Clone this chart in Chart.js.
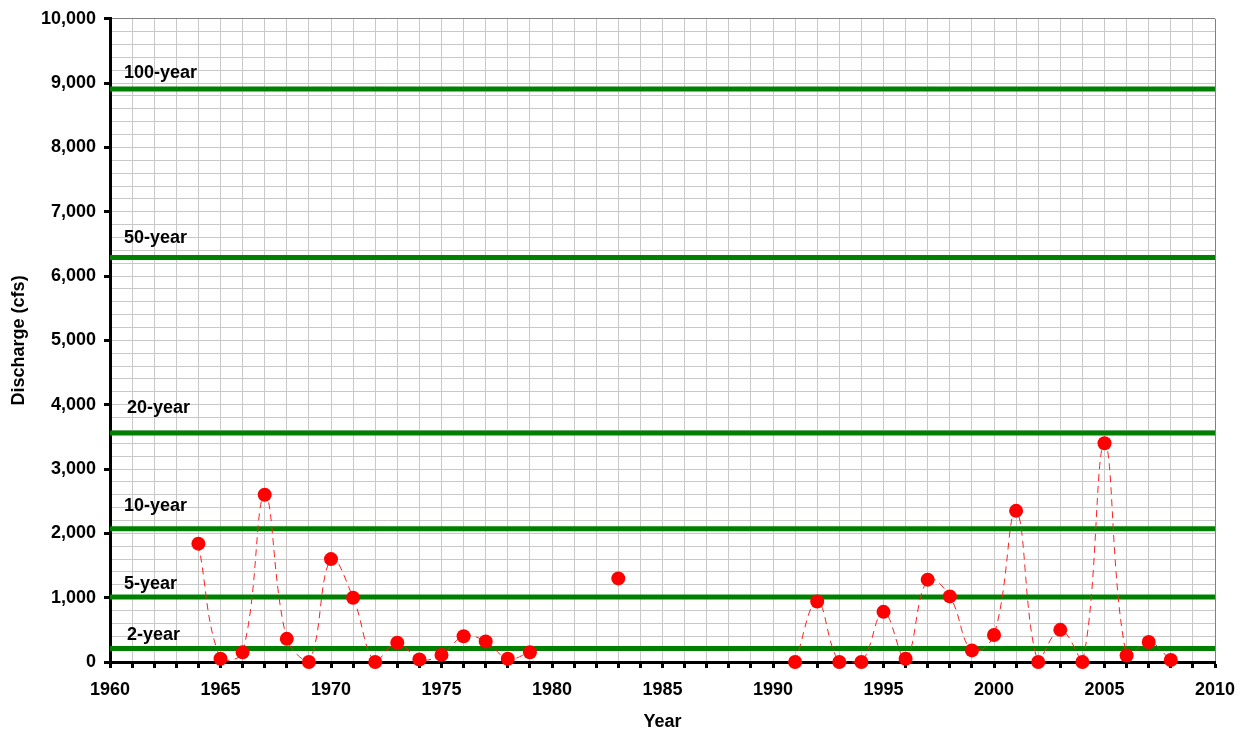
<!DOCTYPE html>
<html>
<head>
<meta charset="utf-8">
<title>Annual peak discharge</title>
<script src="https://cdn.jsdelivr.net/npm/chart.js@4"></script>
<style>
  body { margin: 0; background: #fff; }
  #wrap { width: 1247px; height: 734px; position: relative; }
</style>
</head>
<body>
<div id="wrap"><canvas id="peakChart"></canvas></div>
<script>
// annual peaks (cfs), null = no record that year
const years = [1964, 1965, 1966, 1967, 1968, 1969, 1970, 1971, 1972, 1973, 1974, 1975, 1976, 1977, 1978, 1979,
    1980, 1981, 1982, 1983, 1984, 1985, 1986, 1987, 1988, 1989, 1990,
    1991, 1992, 1993, 1994, 1995, 1996, 1997, 1998, 1999, 2000, 2001, 2002, 2003, 2004, 2005, 2006, 2007, 2008];
const discharge = [1840, 50, 150, 2600, 360, 0, 1600, 1000, 0, 300, 40, 110, 400, 320, 50, 150,
    null, null, null, 1300, null, null, null, null, null, null, null,
    0, 940, 0, 0, 780, 50, 1280, 1020, 180, 420, 2350, 0, 500, 0, 3400, 100, 310, 30];

// flood frequency levels
const floodNames = ['100-year', '50-year', '20-year', '10-year', '5-year', '2-year'];
const floodLevels = [8910, 6290, 3560, 2070, 1010, 210];

const yearMin = 1960;
const yearMax = 2010;

const FONT = "'Liberation Sans', Arial, sans-serif";

// label placement next to each green line (px above line, px right of axis)
const labelDy = [16, 19, 25, 23, 13, 13];
const labelDx = [14, 14, 17, 14, 14, 17];

const floodLabels = {
    id: 'floodLabels',
    afterDatasetsDraw(chart) {
        const ctx = chart.ctx;
        const xs = chart.scales.x;
        const ys = chart.scales.y;
        ctx.save();
        ctx.font = 'bold 18px ' + FONT;
        ctx.fillStyle = '#000';
        ctx.textAlign = 'left';
        ctx.textBaseline = 'middle';
        floodNames.forEach(function (name, i) {
            const px = xs.getPixelForValue(yearMin) + labelDx[i];
            const py = ys.getPixelForValue(floodLevels[i]) - labelDy[i];
            ctx.fillText(name, px, py);
        });
        ctx.restore();
    }
};

const datasets = [{
    label: 'Peak discharge',
    data: years.map((yr, i) => ({ x: yr, y: discharge[i] })),
    borderColor: '#ff2020',
    backgroundColor: '#ff0000',
    borderWidth: 1,
    borderDash: [7, 5],
    tension: 0.4,
    spanGaps: false,
    pointRadius: 7,
    pointBorderWidth: 0,
    pointBackgroundColor: '#ff0000',
    clip: false
}];

floodLevels.forEach(function (lvl, i) {
    datasets.push({
        label: floodNames[i],
        data: [{ x: yearMin, y: lvl }, { x: yearMax, y: lvl }],
        borderColor: '#008000',
        borderWidth: 5,
        borderCapStyle: 'square',
        pointRadius: 0,
        tension: 0
    });
});

new Chart(document.getElementById('peakChart'), {
    type: 'line',
    data: { datasets: datasets },
    options: {
        responsive: true,
        maintainAspectRatio: false,
        animation: false,
        layout: {
            padding: { left: 0, right: 32, top: 16, bottom: 0 }
        },
        plugins: {
            legend: { display: false },
            tooltip: { enabled: false }
        },
        scales: {
            x: {
                type: 'linear',
                min: yearMin,
                max: yearMax,
                afterFit: function (scale) { scale.height = 72; },
                border: { color: '#000', width: 3 },
                grid: {
                    color: function (c) { return c.tick && c.tick.value === yearMax ? '#808080' : '#c8c8c8'; },
                    lineWidth: 1,
                    tickColor: '#000',
                    tickWidth: 3,
                    tickLength: 6
                },
                ticks: {
                    stepSize: 1,
                    autoSkip: false,
                    maxRotation: 0,
                    padding: 11,
                    color: '#000',
                    font: { family: FONT, size: 18, weight: 'bold' },
                    callback: function (v) { return v % 5 === 0 ? String(v) : ''; }
                },
                title: {
                    display: true,
                    text: 'Year',
                    color: '#000',
                    font: { family: FONT, size: 18, weight: 'bold' },
                    padding: { top: 0, bottom: 1 }
                }
            },
            y: {
                min: 0,
                max: 10000,
                afterFit: function (scale) { scale.width = 110; },
                border: { color: '#000', width: 3 },
                grid: {
                    color: function (c) { return c.tick && c.tick.value === 10000 ? '#808080' : '#c8c8c8'; },
                    lineWidth: 1,
                    tickColor: function (c) { return c.tick && c.tick.value % 1000 === 0 ? '#000' : 'rgba(0,0,0,0)'; },
                    tickWidth: 3,
                    tickLength: 6
                },
                ticks: {
                    stepSize: 200,
                    autoSkip: false,
                    padding: 8,
                    color: '#000',
                    font: { family: FONT, size: 18, weight: 'bold' },
                    callback: function (v) { return v % 1000 === 0 ? v.toLocaleString('en-US') : ''; }
                },
                title: {
                    display: true,
                    text: 'Discharge (cfs)',
                    color: '#000',
                    font: { family: FONT, size: 18, weight: 'bold' },
                    padding: { top: 8, bottom: 0 }
                }
            }
        }
    },
    plugins: [floodLabels]
});
</script>
</body>
</html>
